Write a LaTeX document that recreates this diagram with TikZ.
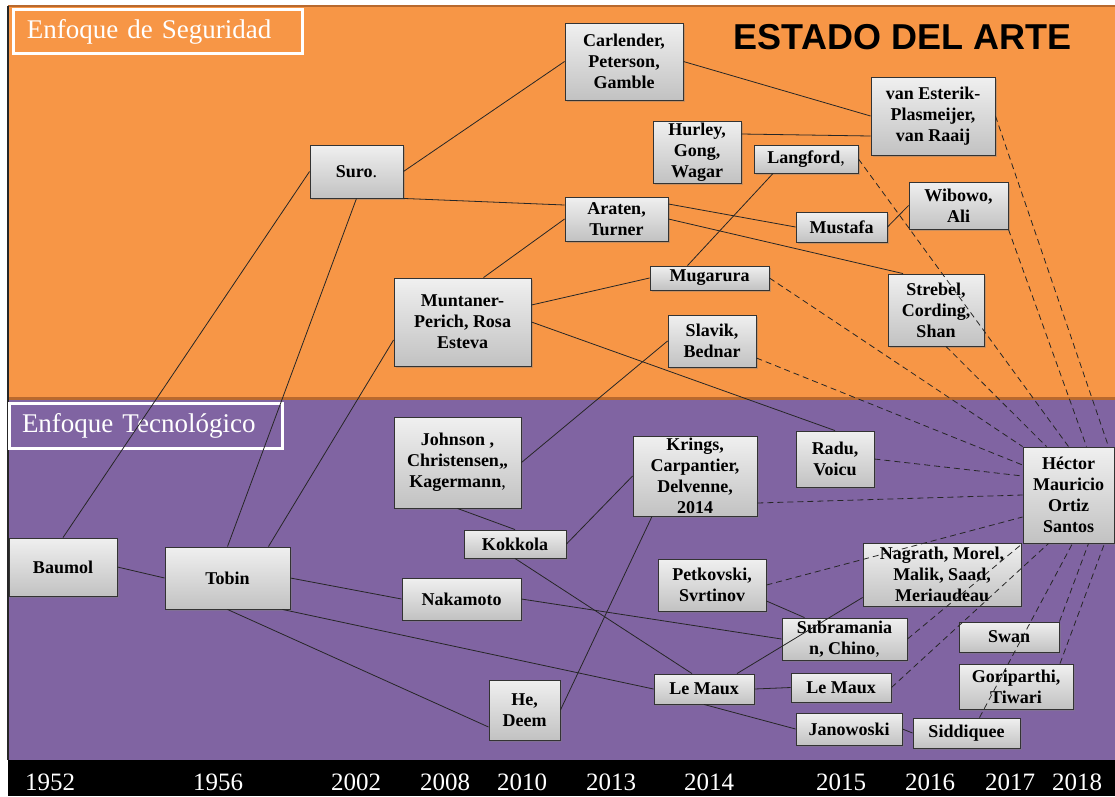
\documentclass[tikz,border=0pt]{standalone}
\usepackage{fontspec}
\setmainfont{Liberation Serif}
\newfontfamily\arialfont{Liberation Sans}
\usetikzlibrary{shadows}

\definecolor{segbg}{HTML}{F79646}
\definecolor{segline}{HTML}{B8692E}
\definecolor{tecbg}{HTML}{8064A2}

\tikzset{
  ref/.style={draw=black!80, line width=0.9pt, top color=gray!12, bottom color=gray!48,
    font=\bfseries\fontsize{18}{21}\selectfont, align=center, inner sep=0pt,
    drop shadow={shadow xshift=1.5pt, shadow yshift=-1.5pt, opacity=0.4}},
  enfoque/.style={draw=white, line width=3pt, text=white, align=left, inner ysep=0pt,
    font=\fontsize{27}{30}\selectfont,
    drop shadow={shadow xshift=1.5pt, shadow yshift=-1.5pt, opacity=0.3}},
  year/.style={text=white, font=\fontsize{25}{28}\selectfont, anchor=base},
  link/.style={draw=black!85, line width=0.8pt},
  dlink/.style={link, dash pattern=on 6pt off 4pt},
}

\begin{document}
\begin{tikzpicture}[x=1pt, y=-1pt]
    \useasboundingbox (0,0) rectangle (1115,796);

    \fill[segbg] (8,6) rectangle (1115,398);
    \fill[tecbg] (8,398) rectangle (1115,760);
    \fill[black] (8,760) rectangle (1115,796);
    \draw[segline, line width=1.5pt] (8,6) -- (1115,6);
    \draw[segline, line width=3pt] (8,398) -- (1115,398);
    \draw[black!85, line width=1.5pt] (8,6) -- (8,760);

    \node[enfoque, fill=segbg, text width=261pt, inner xsep=14pt, minimum height=44pt] (seg) at (157.5,31.5) {Enfoque de Seguridad};
    \node[enfoque, fill=tecbg, text width=247pt, inner xsep=13pt, minimum height=45pt] (tec) at (145.5,425.5) {Enfoque Tecnológico};
    \node[font=\arialfont\bfseries\fontsize{36}{40}\selectfont, anchor=base] (titulo) at (902.5,49) {ESTADO DEL ARTE};

    \node[year] (y1952) at (50,790) {1952};
    \node[year] (y1956) at (218,790) {1956};
    \node[year] (y2002) at (356,790) {2002};
    \node[year] (y2008) at (445,790) {2008};
    \node[year] (y2010) at (522,790) {2010};
    \node[year] (y2013) at (611,790) {2013};
    \node[year] (y2014) at (709,790) {2014};
    \node[year] (y2015) at (841,790) {2015};
    \node[year] (y2016) at (930,790) {2016};
    \node[year] (y2017) at (1010,790) {2017};
    \node[year] (y2018) at (1077,790) {2018};

    \node[ref, minimum width=93pt, minimum height=53pt] (suro) at (356.5,171.5) {Suro\textmd{.}};
    \node[ref, minimum width=118pt, minimum height=77pt] (carl) at (624,61.5) {Carlender,\\Peterson,\\Gamble};
    \node[ref, minimum width=124pt, minimum height=78pt] (vane) at (933,116) {van Esterik-\\Plasmeijer,\\van Raaij};
    \node[ref, minimum width=88pt, minimum height=62pt] (hurl) at (697,152) {Hurley,\\Gong,\\Wagar};
    \node[ref, minimum width=104pt, minimum height=28pt] (lang) at (806,159) {Langford\textmd{,}};
    \node[ref, minimum width=103pt, minimum height=44pt] (arat) at (616.5,219) {Araten,\\Turner};
    \node[ref, minimum width=91pt, minimum height=30pt] (must) at (841.5,227) {Mustafa};
    \node[ref, minimum width=99pt, minimum height=47pt] (wibo) at (958.5,205.5) {Wibowo,\\Ali};
    \node[ref, minimum width=119pt, minimum height=24pt] (muga) at (709.5,278) {Mugarura};
    \node[ref, minimum width=96pt, minimum height=72pt] (stre) at (936,310) {Strebel,\\Cording,\\Shan};
    \node[ref, minimum width=88pt, minimum height=52pt] (slav) at (712,341) {Slavik,\\Bednar};
    \node[ref, minimum width=137pt, minimum height=88pt] (munt) at (462.5,322) {Muntaner-\\Perich, Rosa\\Esteva};

    \node[ref, minimum width=108pt, minimum height=58pt] (baum) at (63,567) {Baumol};
    \node[ref, minimum width=125pt, minimum height=62pt] (tobi) at (227.5,578) {Tobin};
    \node[ref, minimum width=127pt, minimum height=91pt] (john) at (457.5,462.5) {Johnson ,\\Christensen,,\\Kagermann\textmd{,}};
    \node[ref, minimum width=102pt, minimum height=28pt] (kokk) at (515,544) {Kokkola};
    \node[ref, minimum width=119pt, minimum height=42pt] (naka) at (461.5,599) {Nakamoto};
    \node[ref, minimum width=71pt, minimum height=60pt] (hede) at (524.5,710) {He,\\Deem};
    \node[ref, minimum width=124pt, minimum height=80pt] (krin) at (695,476) {Krings,\\Carpantier,\\Delvenne,\\2014};
    \node[ref, minimum width=78pt, minimum height=56pt] (radu) at (835,459) {Radu,\\Voicu};
    \node[ref, minimum width=91pt, minimum height=96pt] (hect) at (1068.5,495) {Héctor\\Mauricio\\Ortiz\\Santos};
    \node[ref, minimum width=108pt, minimum height=52pt] (petk) at (712,585) {Petkovski,\\Svrtinov};
    \node[ref, minimum width=158pt, minimum height=63pt] (nagr) at (942,574.5) {Nagrath, Morel,\\Malik, Saad,\\Meriaudeau};
    \node[ref, minimum width=125pt, minimum height=42pt] (subr) at (844.5,639) {Subramania\\n, Chino\textmd{,}};
    \node[ref, minimum width=100pt, minimum height=30pt] (swan) at (1009,637) {Swan};
    \node[ref, minimum width=100pt, minimum height=30pt] (lema) at (704,689) {Le Maux};
    \node[ref, minimum width=100pt, minimum height=29pt] (lemb) at (841,687.5) {Le Maux};
    \node[ref, minimum width=114pt, minimum height=45pt] (gori) at (1016,686.5) {Goriparthi,\\Tiwari};
    \node[ref, minimum width=106pt, minimum height=32pt] (jano) at (849,729) {Janowoski};
    \node[ref, minimum width=107pt, minimum height=30pt] (sidd) at (966.5,733) {Siddiquee};

    \draw[link] (baum.north) -- (suro.west);
    \draw[link] (baum.east) -- (tobi.west);
    \draw[link] (tobi.north) -- (suro.south);
    \draw[link] ([xshift=-22pt]tobi.north east) -- ([yshift=-18pt]munt.west);
    \draw[link] (tobi.east) -- (naka.west);
    \draw[link] (tobi.south) -- ([yshift=-17pt]hede.west);
    \draw[link] ([xshift=-8pt]tobi.south east) -- (lema.west);
    \draw[link] (suro.east) -- (carl.west);
    \draw[link] (suro.south east) -- ([yshift=14pt]arat.west);
    \draw[link] ([xshift=21pt]munt.north) -- (arat.west);
    \draw[link] ([yshift=15pt]arat.east) -- (must.west);
    \draw[link] (arat.east) -- ([xshift=-33pt]stre.north);
    \draw[link] ([yshift=17pt]munt.east) -- (muga.west);
    \draw[link] (munt.east) -- (radu.north);
    \draw[link] ([xshift=-22pt]muga.north) -- ([xshift=-33pt]lang.south);
    \draw[link] (carl.east) -- (vane.west);
    \draw[link] ([yshift=18pt]hurl.east) -- ([yshift=-20pt]vane.west);
    \draw[link] (must.east) -- (wibo.west);
    \draw[link] (slav.west) -- (john.east);
    \draw[link] (john.south) -- (kokk.north);
    \draw[link] (kokk.south) -- ([xshift=-12pt]lema.north);
    \draw[link] (kokk.east) -- (krin.west);
    \draw[link] ([xshift=-43pt]krin.south) -- (hede.east);
    \draw[link] (naka.east) -- (subr.west);
    \draw[link] (lema.east) -- (lemb.west);
    \draw[link] (lema.south) -- (jano.west);
    \draw[link] ([xshift=33pt]lema.north) -- ([yshift=-23pt]nagr.west);
    \draw[link] ([yshift=-16pt]petk.east) -- ([xshift=-40pt]subr.north);
    \draw[link] (jano.east) -- (sidd.west);

    \draw[dlink] (vane.east) -- ([xshift=40pt]hect.north);
    \draw[dlink] (lang.east) -- (hect.north);
    \draw[dlink] (wibo.south east) -- ([xshift=18pt]hect.north);
    \draw[dlink] ([xshift=10pt]stre.south) -- ([xshift=-22pt]hect.north);
    \draw[dlink] (muga.east) -- (hect.north west);
    \draw[dlink] ([yshift=-17pt]slav.east) -- ([yshift=30pt]hect.west);
    \draw[dlink] (radu.east) -- ([yshift=19pt]hect.west);
    \draw[dlink] ([yshift=-27pt]krin.east) -- (hect.west);
    \draw[dlink] (petk.east) -- ([yshift=-22pt]hect.west);
    \draw[dlink] (subr.east) -- (hect.south west);
    \draw[dlink] (lemb.east) -- ([xshift=-20pt]hect.south);
    \draw[dlink] ([xshift=13pt]sidd.north) -- ([xshift=4pt]hect.south);
    \draw[dlink] (swan.north east) -- ([xshift=20pt]hect.south);
    \draw[dlink] ([xshift=44pt]gori.north) -- ([xshift=36pt]hect.south);
\end{tikzpicture}
\end{document}
